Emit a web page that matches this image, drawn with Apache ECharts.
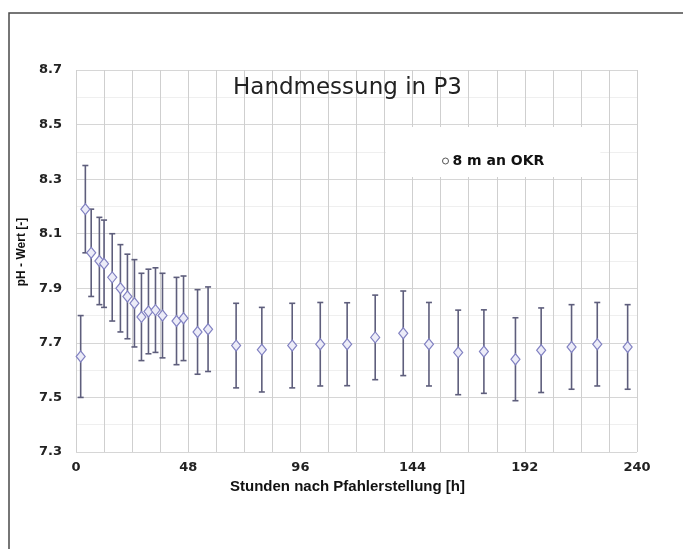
<!DOCTYPE html>
<html>
<head>
<meta charset="utf-8">
<script src="https://cdn.jsdelivr.net/npm/echarts@6/dist/echarts.min.js"></script>
<style>
html,body{margin:0;padding:0;background:#fff;}
#chart{width:683px;height:549px;}
</style>
</head>
<body>
<div id="chart"></div>
<script>
// Data
const hours = [2, 4, 6.5, 10, 12, 15.5, 19, 22, 25, 28, 31, 34, 37, 43, 46, 52, 56.5, 68.5, 79.5, 92.5, 104.5, 116, 128, 140, 151, 163.5, 174.5, 188, 199, 212, 223, 236];
const phMean = [7.65, 8.19, 8.03, 8.00, 7.99, 7.94, 7.90, 7.87, 7.845, 7.795, 7.815, 7.82, 7.80, 7.78, 7.79, 7.74, 7.75, 7.69, 7.675, 7.69, 7.695, 7.695, 7.72, 7.735, 7.695, 7.665, 7.668, 7.64, 7.673, 7.685, 7.695, 7.685];
const phErr = [0.15, 0.16, 0.16, 0.16, 0.16, 0.16, 0.16, 0.155, 0.16, 0.16, 0.155, 0.155, 0.155, 0.16, 0.155, 0.155, 0.155, 0.155, 0.155, 0.155, 0.153, 0.152, 0.155, 0.155, 0.153, 0.155, 0.153, 0.152, 0.155, 0.155, 0.153, 0.155];
const xTicks = [0, 48, 96, 144, 192, 240];
const yTicks = [7.3, 7.5, 7.7, 7.9, 8.1, 8.3, 8.5, 8.7];
const seriesName = '8 m an OKR';
const titleText = 'Handmessung in P3';
const xName = 'Stunden nach Pfahlerstellung [h]';
const yName = 'pH - Wert [-]';

const points = hours.map((h, i) => [h, phMean[i]]);
const bars = hours.map((h, i) => [h, phMean[i] - phErr[i], phMean[i] + phErr[i]]);

const chart = echarts.init(document.getElementById('chart'));
chart.setOption({
  animation: false,
  backgroundColor: '#fff',
  graphic: [
    { type: 'polyline', silent: true, z: 100,
      shape: { points: [[9, 560], [9, 13], [690, 13]] },
      style: { stroke: '#4a4a4a', lineWidth: 1.5, fill: null } }
  ],
  title: {
    text: titleText,
    left: 228, top: 72,
    textStyle: { fontFamily: 'DejaVu Sans', fontSize: 23, fontWeight: 'normal', color: '#222' }
  },
  legend: {
    data: [{ name: seriesName, icon: 'circle', itemStyle: { color: '#fff', borderColor: '#555', borderWidth: 1 } }],
    left: 386, top: 127,
    padding: [27, 56, 9, 56],
    backgroundColor: '#fff',
    itemWidth: 6, itemHeight: 6, itemGap: 4,
    textStyle: { fontFamily: 'DejaVu Sans', fontWeight: 'bold', fontSize: 14, color: '#111', padding: [0, 0, 0, -1] }
  },
  grid: { left: 76, right: 46, top: 70, bottom: 97 },
  xAxis: {
    type: 'value', min: xTicks[0], max: xTicks[xTicks.length - 1], interval: 48,
    name: xName, nameLocation: 'middle', nameGap: 26,
    nameTextStyle: { fontFamily: 'Liberation Sans', fontWeight: 'bold', fontSize: 15, color: '#111', padding: [0, 18, 0, 0] },
    axisLine: { show: false }, axisTick: { show: false },
    axisLabel: { margin: 9, fontFamily: 'DejaVu Sans', fontWeight: 'bold', fontSize: 13, color: '#222' },
    splitLine: { show: true, lineStyle: { color: '#cfcfcf', width: 1 } },
    minorTick: { show: false, splitNumber: 4 },
    minorSplitLine: { show: true, lineStyle: { color: '#cfcfcf', width: 1 } }
  },
  yAxis: {
    type: 'value', min: yTicks[0], max: yTicks[yTicks.length - 1], interval: 0.2,
    name: yName, nameLocation: 'middle', nameGap: 45, nameRotate: 90,
    nameTextStyle: { fontFamily: 'Liberation Sans', fontWeight: 'bold', fontSize: 12, color: '#111', padding: [0, 0, 0, 18] },
    axisLine: { show: false }, axisTick: { show: false },
    axisLabel: { margin: 14, fontFamily: 'DejaVu Sans', fontWeight: 'bold', fontSize: 13, color: '#222',
      formatter: v => v.toFixed(1) },
    splitLine: { show: true, lineStyle: { color: '#d6d6d6', width: 1 } },
    minorTick: { show: false, splitNumber: 2 },
    minorSplitLine: { show: true, lineStyle: { color: '#efefef', width: 1 } }
  },
  series: [
    {
      type: 'custom', name: 'err', silent: true, z: 2,
      data: bars,
      encode: { x: 0, y: [1, 2] },
      renderItem: function (params, api) {
        const x = api.value(0);
        const lo = api.coord([x, api.value(1)]);
        const hi = api.coord([x, api.value(2)]);
        const cap = 3;
        const st = { stroke: '#5e5e7c', lineWidth: 1.6 };
        return { type: 'group', children: [
          { type: 'line', shape: { x1: lo[0], y1: lo[1], x2: hi[0], y2: hi[1] }, style: st },
          { type: 'line', shape: { x1: lo[0] - cap, y1: lo[1], x2: lo[0] + cap, y2: lo[1] }, style: st },
          { type: 'line', shape: { x1: hi[0] - cap, y1: hi[1], x2: hi[0] + cap, y2: hi[1] }, style: st }
        ]};
      }
    },
    {
      type: 'scatter', name: seriesName, z: 3,
      data: points,
      symbol: 'diamond', symbolSize: [9, 11],
      itemStyle: { color: '#ececf8', borderColor: '#8282c2', borderWidth: 1.2, opacity: 1 }
    }
  ]
});
</script>
</body>
</html>
